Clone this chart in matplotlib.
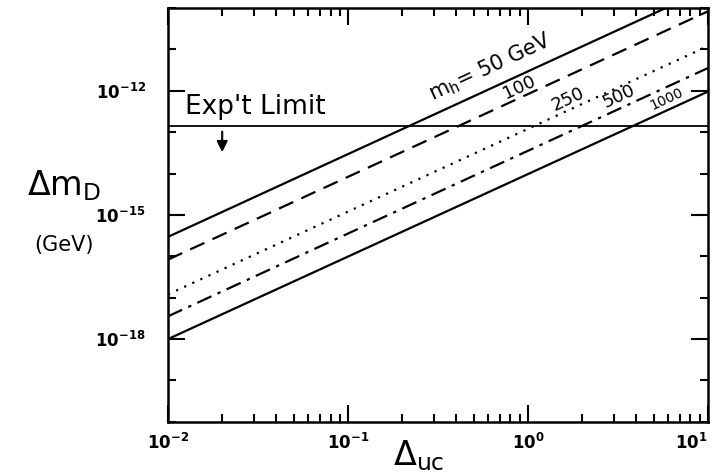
import numpy as np
import matplotlib
matplotlib.use("Agg")
import matplotlib.pyplot as plt
from matplotlib.ticker import LogLocator, NullFormatter, FixedLocator, FixedFormatter

# values (log-log straight lines, endpoints at x = 1e-2 and 1e1)
delta_uc = [1e-2, 1e1]
higgs_mass = ["50", "100", "250", "500", "1000"]
dm_50 = [10**-15.53, 10**-9.53]
dm_100 = [10**-16.08, 10**-10.08]
dm_250 = [10**-16.92, 10**-10.92]
dm_500 = [10**-17.45, 10**-11.45]
dm_1000 = [10**-18.0, 10**-12.02]
exp_limit = 10**-12.84

series = [dm_50, dm_100, dm_250, dm_500, dm_1000]
styles = ["-", (0, (7, 4)), (0, (1, 3)), (0, (7, 3, 1.5, 3)), "-"]

fig = plt.figure(figsize=(7.15, 4.75), dpi=100)
ax = fig.add_axes([0.235, 0.112, 0.755, 0.871])

for ys, ls in zip(series, styles):
    ax.plot(delta_uc, ys, color="black", lw=1.6, linestyle=ls)

ax.axhline(exp_limit, color="black", lw=1.3)

ax.set_xscale("log")
ax.set_yscale("log")
ax.set_xlim(1e-2, 1e1)
ax.set_ylim(1e-20, 1e-10)

# ticks
ax.xaxis.set_major_locator(FixedLocator([1e-2, 1e-1, 1e0, 1e1]))
ax.xaxis.set_major_formatter(FixedFormatter([r"$\mathbf{10^{-2}}$", r"$\mathbf{10^{-1}}$",
                                             r"$\mathbf{10^{0}}$", r"$\mathbf{10^{1}}$"]))
ax.xaxis.set_minor_locator(LogLocator(base=10, subs=np.arange(2, 10), numticks=20))
ax.xaxis.set_minor_formatter(NullFormatter())
ax.yaxis.set_major_locator(FixedLocator([1e-18, 1e-15, 1e-12]))
ax.yaxis.set_major_formatter(FixedFormatter([r"$\mathbf{10^{-18}}$", r"$\mathbf{10^{-15}}$",
                                             r"$\mathbf{10^{-12}}$"]))
ax.yaxis.set_minor_locator(FixedLocator([10.0**k for k in range(-20, -9)]))
ax.yaxis.set_minor_formatter(NullFormatter())

ax.tick_params(which="both", direction="in", top=True, right=True, width=1.5)
ax.tick_params(which="major", length=12)
ax.tick_params(which="minor", length=6)
ax.tick_params(axis="y", which="major", pad=16, labelsize=12)
ax.tick_params(axis="x", which="major", pad=8, labelsize=12)
for s in ax.spines.values():
    s.set_linewidth(1.8)

# keep the last x tick label inside the figure
fig.canvas.draw()
ax.get_xticklabels()[-1].set_horizontalalignment("right")
ax.get_xticklabels()[-1].set_x(1e1)

# curve labels
ang = 25
ax.text(0.62, 10**-11.44, r"$\mathrm{m_h}$= 50 GeV", rotation=ang, fontsize=15,
        ha="center", va="center")
ax.text(0.90, 10**-11.92, higgs_mass[1], rotation=ang, fontsize=13, ha="center", va="center")
ax.text(1.67, 10**-12.2, higgs_mass[2], rotation=ang, fontsize=13, ha="center", va="center")
ax.text(3.2, 10**-12.13, higgs_mass[3], rotation=ang, fontsize=13, ha="center", va="center")
ax.text(5.9, 10**-12.2, higgs_mass[4], rotation=ang, fontsize=10, ha="center", va="center")

# experimental limit
ax.text(0.0124, 10**-12.4, "Exp't Limit", fontsize=19, ha="left", va="center")
ax.annotate("", xy=(0.02, 10**-13.55), xytext=(0.02, 10**-12.92),
            arrowprops=dict(arrowstyle="-|>", color="black", lw=1.5, mutation_scale=16))

# axis labels
fig.text(0.09, 0.61, r"$\Delta \mathrm{m_D}$", fontsize=24, ha="center", va="center")
fig.text(0.09, 0.485, "(GeV)", fontsize=15, ha="center", va="center")
fig.text(0.585, 0.04, r"$\Delta_{\mathrm{uc}}$", fontsize=24, ha="center", va="center")

fig.savefig("out.png", dpi=100)
